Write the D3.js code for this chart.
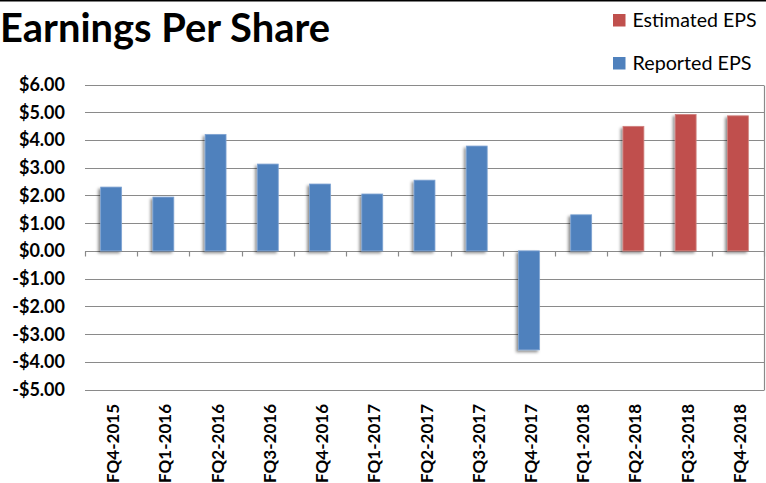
<!DOCTYPE html>
<html>
<head>
<meta charset="utf-8">
<script src="https://cdn.jsdelivr.net/npm/d3@7"></script>
<style>
  body { margin: 0; background: #fff; }
  svg { display: block; }
</style>
</head>
<body>
<div id="chart"></div>
<script>
const WIDTH = 766;
const HEIGHT = 483;

// quarters on the x axis
const quarters = ['FQ4-2015', 'FQ1-2016', 'FQ2-2016', 'FQ3-2016', 'FQ4-2016', 'FQ1-2017',
  'FQ2-2017', 'FQ3-2017', 'FQ4-2017', 'FQ1-2018', 'FQ2-2018', 'FQ3-2018', 'FQ4-2018'];
// reported EPS (blue), null where the quarter is only estimated
const reportedEPS = [2.30, 1.94, 4.20, 3.13, 2.41, 2.05, 2.55, 3.78, -3.57, 1.30, null, null, null];
// estimated EPS (red)
const estimatedEPS = [null, null, null, null, null, null, null, null, null, null, 4.49, 4.92, 4.87];
const yTicks = [6, 5, 4, 3, 2, 1, 0, -1, -2, -3, -4, -5];
const seriesNames = ['Estimated EPS', 'Reported EPS'];

const BLUE = '#4f81bd';
const RED = '#c0504d';
const GRID = '#8a8a8a';

const plot = { left: 85, right: 764, top: 84.5, bottom: 389.5 };

const svg = d3.select('#chart').append('svg')
  .attr('width', WIDTH)
  .attr('height', HEIGHT);

const defs = svg.append('defs');
defs.append('filter')
  .attr('id', 'shadow')
  .attr('x', '-50%').attr('y', '-20%')
  .attr('width', '200%').attr('height', '140%')
  .append('feDropShadow')
  .attr('dx', -2).attr('dy', 2)
  .attr('stdDeviation', 1.6)
  .attr('flood-color', '#000')
  .attr('flood-opacity', 0.45);

// outer border piece at the very top
svg.append('line')
  .attr('x1', 0).attr('x2', WIDTH)
  .attr('y1', 0.75).attr('y2', 0.75)
  .attr('stroke', '#000')
  .attr('stroke-width', 1.5);

const x = d3.scaleBand()
  .domain(quarters)
  .range([plot.left, plot.right])
  .paddingInner(0.6)
  .paddingOuter(0.3);

const y = d3.scaleLinear()
  .domain([-5, 6])
  .range([plot.bottom, plot.top]);

// gridlines
svg.append('g')
  .selectAll('line')
  .data(yTicks)
  .enter()
  .append('line')
  .attr('x1', plot.left)
  .attr('x2', plot.right)
  .attr('y1', d => Math.round(y(d)) + 0.5)
  .attr('y2', d => Math.round(y(d)) + 0.5)
  .attr('stroke', GRID)
  .attr('stroke-width', 1.2);

// right border of plot area
svg.append('line')
  .attr('x1', plot.right + 0.5).attr('x2', plot.right + 0.5)
  .attr('y1', Math.round(y(6)) + 0.5).attr('y2', Math.round(y(-5)) + 0.5)
  .attr('stroke', GRID)
  .attr('stroke-width', 1.2);

// y labels
svg.append('g')
  .selectAll('text')
  .data(yTicks)
  .enter()
  .append('text')
  .attr('x', 65)
  .attr('y', d => y(d) + 6.5)
  .attr('text-anchor', 'end')
  .attr('font-family', 'Lato, sans-serif')
  .attr('font-weight', 'bold')
  .attr('font-size', 18)
  .attr('fill', '#000')
  .text(d => (d < 0 ? '-$' : '$') + Math.abs(d).toFixed(2));

// bars
const barData = quarters.map((q, i) => ({
  q,
  value: reportedEPS[i] !== null ? reportedEPS[i] : estimatedEPS[i],
  est: reportedEPS[i] === null,
}));

svg.append('g')
  .selectAll('rect')
  .data(barData)
  .enter()
  .append('rect')
  .attr('x', d => x(d.q))
  .attr('width', x.bandwidth())
  .attr('y', d => y(Math.max(0, d.value)))
  .attr('height', d => Math.abs(y(d.value) - y(0)))
  .attr('fill', d => (d.est ? RED : BLUE))
  .attr('stroke', d => (d.est ? '#d0807e' : '#7ea3d3'))
  .attr('stroke-width', 0.8)
  .attr('filter', 'url(#shadow)');

// x axis: zero line ticks at category boundaries
const zeroY = Math.round(y(0)) + 0.5;
const step = x.step();
svg.append('g')
  .selectAll('line')
  .data(d3.range(quarters.length + 1))
  .enter()
  .append('line')
  .attr('x1', i => Math.round(plot.left + i * step) + 0.5)
  .attr('x2', i => Math.round(plot.left + i * step) + 0.5)
  .attr('y1', zeroY)
  .attr('y2', zeroY + 5)
  .attr('stroke', GRID)
  .attr('stroke-width', 1.2);

// x labels, rotated
svg.append('g')
  .selectAll('text')
  .data(quarters)
  .enter()
  .append('text')
  .attr('transform', d => `translate(${x(d) + x.bandwidth() / 2 + 8},404) rotate(-90)`)
  .attr('text-anchor', 'end')
  .attr('font-family', 'Lato, sans-serif')
  .attr('font-weight', 'bold')
  .attr('font-size', 17)
  .attr('fill', '#000')
  .text(d => d);

// title
svg.append('text')
  .attr('x', 0)
  .attr('y', 42)
  .attr('font-family', 'Lato, sans-serif')
  .attr('font-weight', 'bold')
  .attr('font-size', 40)
  .attr('textLength', 330)
  .attr('lengthAdjust', 'spacingAndGlyphs')
  .attr('fill', '#000')
  .text('Earnings Per Share');

// legend
const legend = svg.append('g');
const legendColors = [RED, BLUE];
const legendY = [14, 57];
const legendLen = [124, 119];
seriesNames.forEach((name, i) => {
  legend.append('rect')
    .attr('x', 613)
    .attr('y', legendY[i])
    .attr('width', 12.5)
    .attr('height', 12.5)
    .attr('fill', legendColors[i]);
  legend.append('text')
    .attr('x', 632.5)
    .attr('y', legendY[i] + 12.7)
    .attr('font-family', 'Lato, sans-serif')
    .attr('font-size', 18.5)
    .attr('textLength', legendLen[i])
    .attr('lengthAdjust', 'spacingAndGlyphs')
    .attr('fill', '#000')
    .text(name);
});
</script>
</body>
</html>
